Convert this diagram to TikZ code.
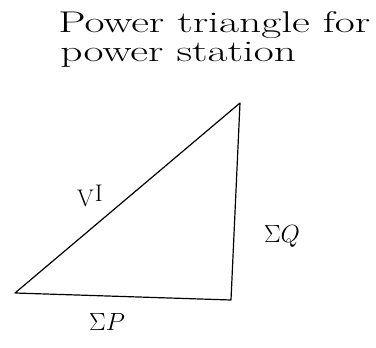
\documentclass[tikz,border=0pt]{standalone}
\begin{document}
\begin{tikzpicture}[x=1pt,y=-1pt,
  edge/.style={draw=black,line width=1.2pt,line join=round,line cap=round},
  lbl/.style={inner sep=0pt,font=\fontsize{24}{28}\selectfont},
  title/.style={inner sep=0pt,anchor=base west,xscale=1.45,font=\fontsize{30}{34}\selectfont}]
\useasboundingbox (0,0) rectangle (376,348);
\node[title] (t1) at (58,32) {Power triangle for};
\node[title] (t2) at (60,62) {power station};
\coordinate (A) at (15,293);
\coordinate (B) at (231,300);
\coordinate (C) at (240,103);
\draw[edge] (A) -- (B) (B) -- (C) (C) -- (A);
\node[lbl] (vi) at (90,196) {V\kern1pt\raisebox{5pt}{I}};
\node[lbl] (q) at (282,236) {$\Sigma Q$};
\node[lbl] (p) at (107,322) {$\Sigma P$};
\end{tikzpicture}
\end{document}
